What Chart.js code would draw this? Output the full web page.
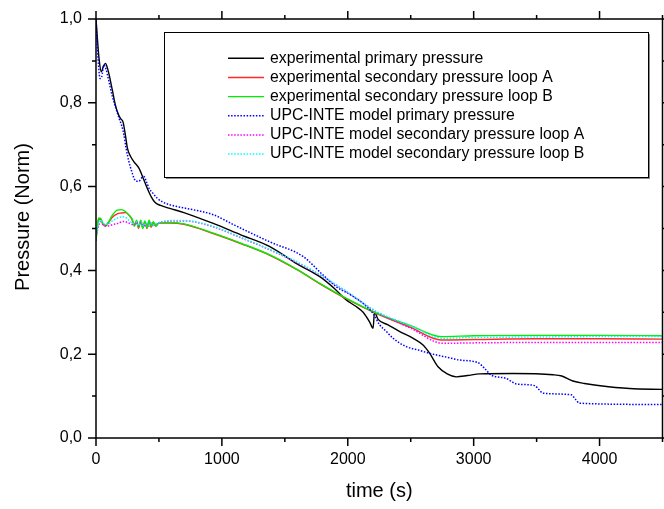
<!DOCTYPE html>
<html>
<head>
<meta charset="utf-8">
<script src="https://cdn.jsdelivr.net/npm/chart.js@4.4.0/dist/chart.umd.min.js"></script>
<style>
  html, body { margin: 0; padding: 0; background: #fff; }
  #wrap { width: 664px; height: 509px; }
</style>
</head>
<body>
<div id="wrap"><canvas id="myChart"></canvas></div>
<script>
// values (time in s, pressure normalised)
const tExpPri = [0, 12, 24, 42, 60, 75, 90, 105, 130, 150, 169, 195, 214, 235, 250, 275, 302, 341, 375, 407, 440, 470, 513, 587, 698, 931, 1150, 1381, 1600, 1778, 1900, 1990, 2060, 2122, 2175, 2201, 2212, 2241, 2320, 2413, 2520, 2598, 2651, 2717, 2790, 2862, 2950, 3048, 3312, 3630, 3700, 3788, 3880, 3974, 4238, 4500];
const pExpPri = [1.0, 0.95, 0.906, 0.874, 0.888, 0.894, 0.884, 0.866, 0.83, 0.80, 0.779, 0.762, 0.755, 0.72, 0.691, 0.672, 0.659, 0.644, 0.62, 0.596, 0.575, 0.562, 0.555, 0.548, 0.538, 0.512, 0.485, 0.457, 0.415, 0.385, 0.355, 0.329, 0.315, 0.300, 0.276, 0.262, 0.300, 0.283, 0.270, 0.254, 0.238, 0.222, 0.202, 0.170, 0.153, 0.146, 0.149, 0.153, 0.154, 0.151, 0.148, 0.136, 0.130, 0.126, 0.118, 0.116];

const tExpSec = [0, 10, 20, 37, 55, 77, 100, 130, 169, 200, 236, 262, 288, 305, 322, 338, 355, 372, 388, 405, 422, 438, 455, 474, 500, 587, 698, 931, 1150, 1381, 1600, 1778, 1990, 2228, 2500, 2743, 3000, 3500, 4000, 4500];
const pExpSecA = [0.47, 0.50, 0.522, 0.522, 0.510, 0.506, 0.514, 0.527, 0.535, 0.537, 0.538, 0.532, 0.520, 0.508, 0.518, 0.500, 0.518, 0.502, 0.516, 0.500, 0.518, 0.503, 0.515, 0.506, 0.513, 0.513, 0.510, 0.488, 0.464, 0.436, 0.401, 0.368, 0.332, 0.297, 0.264, 0.234, 0.235, 0.237, 0.237, 0.236];
const pExpSecB = [0.475, 0.50, 0.525, 0.524, 0.512, 0.508, 0.516, 0.532, 0.544, 0.545, 0.540, 0.532, 0.522, 0.505, 0.520, 0.502, 0.520, 0.500, 0.518, 0.502, 0.520, 0.505, 0.516, 0.505, 0.513, 0.514, 0.511, 0.489, 0.465, 0.437, 0.402, 0.369, 0.333, 0.298, 0.268, 0.242, 0.244, 0.245, 0.245, 0.244];

const tModPri = [0, 10, 20, 32, 45, 63, 80, 100, 130, 160, 183, 205, 222, 240, 262, 285, 302, 320, 341, 360, 381, 400, 421, 450, 487, 530, 593, 700, 800, 931, 1100, 1381, 1646, 1800, 1910, 2020, 2122, 2201, 2254, 2307, 2360, 2466, 2560, 2651, 2783, 2889, 3034, 3087, 3140, 3259, 3300, 3339, 3484, 3520, 3550, 3775, 3810, 3841, 4500];
const pModPri = [1.0, 0.94, 0.89, 0.858, 0.862, 0.89, 0.88, 0.855, 0.815, 0.785, 0.763, 0.745, 0.723, 0.69, 0.659, 0.635, 0.62, 0.613, 0.613, 0.62, 0.624, 0.612, 0.596, 0.585, 0.572, 0.563, 0.556, 0.549, 0.543, 0.533, 0.508, 0.468, 0.433, 0.39, 0.361, 0.342, 0.321, 0.297, 0.27, 0.254, 0.238, 0.218, 0.21, 0.202, 0.193, 0.186, 0.180, 0.166, 0.150, 0.142, 0.135, 0.129, 0.125, 0.115, 0.107, 0.103, 0.092, 0.083, 0.080];

const tModSec = [0, 15, 37, 60, 90, 130, 170, 222, 260, 300, 320, 340, 360, 380, 400, 420, 440, 460, 480, 513, 600, 698, 931, 1150, 1381, 1600, 1778, 1990, 2228, 2500, 2757, 3000, 3500, 4000, 4500];
const pModSecA = [0.48, 0.50, 0.516, 0.508, 0.506, 0.509, 0.512, 0.517, 0.513, 0.509, 0.514, 0.506, 0.513, 0.505, 0.512, 0.506, 0.512, 0.507, 0.511, 0.515, 0.518, 0.518, 0.504, 0.478, 0.449, 0.418, 0.389, 0.349, 0.301, 0.262, 0.226, 0.227, 0.228, 0.228, 0.228];
const pModSecB = [0.48, 0.505, 0.52, 0.512, 0.51, 0.518, 0.525, 0.528, 0.52, 0.512, 0.516, 0.507, 0.515, 0.506, 0.514, 0.507, 0.513, 0.508, 0.512, 0.515, 0.519, 0.519, 0.505, 0.479, 0.450, 0.420, 0.390, 0.350, 0.302, 0.268, 0.238, 0.240, 0.241, 0.242, 0.242];

const seriesLabels = [
  'experimental primary pressure',
  'experimental secondary pressure loop A',
  'experimental secondary pressure loop B',
  'UPC-INTE model primary pressure',
  'UPC-INTE model secondary pressure loop A',
  'UPC-INTE model secondary pressure loop B'
];

const xTicks = [0, 1000, 2000, 3000, 4000];
const yTicks = [0, 0.2, 0.4, 0.6, 0.8, 1.0];

const FONT = "'Liberation Sans', Arial, sans-serif";
const pts = (ts, ps) => ts.map((t, i) => ({ x: t, y: ps[i] }));

function line(label, data, color, dotted, order) {
  return {
    label, data,
    borderColor: color,
    borderWidth: dotted ? 1.5 : 1.4,
    borderDash: dotted ? [1.5, 1.6] : [],
    pointRadius: 0,
    fill: false,
    cubicInterpolationMode: 'monotone',
    order
  };
}

// axis frame, minor/major ticks, y title and boxed legend
const framePlugin = {
  id: 'framePlugin',
  afterDatasetsDraw(chart) {
    const { ctx, chartArea: a, scales: { x, y } } = chart;
    ctx.save();
    ctx.strokeStyle = '#000';
    ctx.lineWidth = 1.5;
    ctx.strokeRect(a.left, a.top, a.right - a.left, a.bottom - a.top);
    ctx.beginPath();
    for (let t = 0; t <= 4500; t += 500) {
      const px = x.getPixelForValue(t);
      const len = t % 1000 === 0 ? 8 : 4;
      ctx.moveTo(px, a.bottom); ctx.lineTo(px, a.bottom + len);
      ctx.moveTo(px, a.top); ctx.lineTo(px, a.top - len);
    }
    for (let i = 0; i <= 10; i++) {
      const py = y.getPixelForValue(i / 10);
      const len = i % 2 === 0 ? 8 : 4;
      ctx.moveTo(a.left, py); ctx.lineTo(a.left - len, py);
      ctx.moveTo(a.right, py); ctx.lineTo(a.right + len, py);
    }
    ctx.stroke();

    // y axis title
    ctx.save();
    ctx.translate(23, 217);
    ctx.rotate(-Math.PI / 2);
    ctx.fillStyle = '#000';
    ctx.font = '20px ' + FONT;
    ctx.textAlign = 'center';
    ctx.textBaseline = 'middle';
    ctx.fillText('Pressure (Norm)', 0, 0);
    ctx.restore();

    // legend box
    const bx = 164, by = 32, bw = 484, bh = 145;
    ctx.fillStyle = '#8a8a8a';
    ctx.fillRect(bx + 2, by + 2, bw, bh);
    ctx.fillStyle = '#fff';
    ctx.fillRect(bx, by, bw, bh);
    ctx.lineWidth = 1;
    ctx.strokeStyle = '#000';
    ctx.strokeRect(bx + 0.5, by + 0.5, bw, bh);
    ctx.font = '15.8px ' + FONT;
    ctx.textBaseline = 'middle';
    ctx.textAlign = 'left';
    chart.data.datasets.forEach((ds, i) => {
      const ry = 58.3 + i * 19.15;
      ctx.beginPath();
      ctx.strokeStyle = ds.borderColor;
      ctx.lineWidth = ds.borderWidth;
      ctx.setLineDash(ds.borderDash);
      ctx.moveTo(228, ry); ctx.lineTo(264, ry);
      ctx.stroke();
      ctx.setLineDash([]);
      ctx.fillStyle = '#000';
      ctx.fillText(ds.label, 270, ry);
    });
    ctx.restore();
  }
};

const ctx = document.getElementById('myChart');
const chart = new Chart(ctx, {
  type: 'line',
  data: {
    datasets: [
      line(seriesLabels[0], pts(tExpPri, pExpPri), '#000000', false, 5),
      line(seriesLabels[1], pts(tExpSec, pExpSecA), '#ff2a2a', false, 4),
      line(seriesLabels[2], pts(tExpSec, pExpSecB), '#00ee00', false, 3),
      line(seriesLabels[3], pts(tModPri, pModPri), '#0000ff', true, 2),
      line(seriesLabels[4], pts(tModSec, pModSecA), '#ff00ff', true, 1),
      line(seriesLabels[5], pts(tModSec, pModSecB), '#00ffff', true, 0)
    ]
  },
  options: {
    responsive: true,
    maintainAspectRatio: false,
    animation: false,
    layout: { padding: { top: 19, right: 1.5, left: 0, bottom: 0 } },
    plugins: { legend: { display: false }, tooltip: { enabled: false } },
    scales: {
      x: {
        type: 'linear',
        min: 0,
        max: 4500,
        afterBuildTicks: s => { s.ticks = xTicks.map(v => ({ value: v })); },
        ticks: { maxRotation: 0, padding: 12, color: '#000', font: { family: FONT, size: 16 },
          callback: v => String(v) },
        grid: { display: false, drawTicks: false },
        border: { display: false },
        title: { display: true, text: 'time (s)', color: '#000', font: { family: FONT, size: 20 }, padding: { top: 0, bottom: 6 } },
        afterFit: s => { s.height = 71; s.paddingLeft = 0; s.paddingRight = 0; }
      },
      y: {
        min: 0,
        max: 1,
        afterBuildTicks: s => { s.ticks = yTicks.map(v => ({ value: v })); },
        ticks: { padding: 14, color: '#000', font: { family: FONT, size: 16 },
          callback: v => v.toFixed(1).replace('.', ',') },
        grid: { display: false, drawTicks: false },
        border: { display: false },
        afterFit: s => { s.width = 96; s.paddingTop = 0; s.paddingBottom = 0; }
      }
    }
  },
  plugins: [framePlugin]
});
</script>
</body>
</html>
